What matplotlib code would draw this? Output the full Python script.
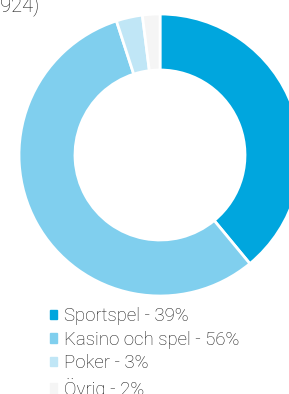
import matplotlib.pyplot as plt
from matplotlib.patches import Rectangle

labels = ['Sportspel - 39%', 'Kasino och spel - 56%', 'Poker - 3%', 'Övrig - 2%']
shares = [39, 56, 3, 2]
colors = ['#00a6de', '#80cfee', '#c0e6f6', '#f5f5f5']

plt.rcParams['font.family'] = ['Roboto', 'DejaVu Sans']

fig = plt.figure(figsize=(2.89, 3.94), dpi=100)
ax = fig.add_axes([0, 0, 1, 1])

wedges, _ = ax.pie(shares, colors=colors, startangle=90, counterclock=False,
                   center=(160, 239), radius=141, frame=True,
                   wedgeprops=dict(width=56, edgecolor='white', linewidth=2))
ax.set_xlim(0, 289)
ax.set_ylim(0, 394)
ax.axis('off')

# title cut off at the top of the picture, as in the source
fig.text(39 / 289, 1 - 11 / 394, '(SEK 1 924)', ha='right', va='baseline',
         fontsize=14.5, fontweight='light', color='#1a1a1a')

handles = [Rectangle((0, 0), 1, 1, color=c) for c in colors]
ax.legend(handles, labels, loc='upper left', bbox_to_anchor=(50 / 289, 1 - 307 / 394),
          frameon=False, handlelength=0.4, handleheight=0.4, handletextpad=0.33,
          labelspacing=0.3, borderpad=0, borderaxespad=0,
          prop=dict(size=13.4, weight='light'), labelcolor='#1a1a1a')

fig.savefig('out.png', dpi=100)
